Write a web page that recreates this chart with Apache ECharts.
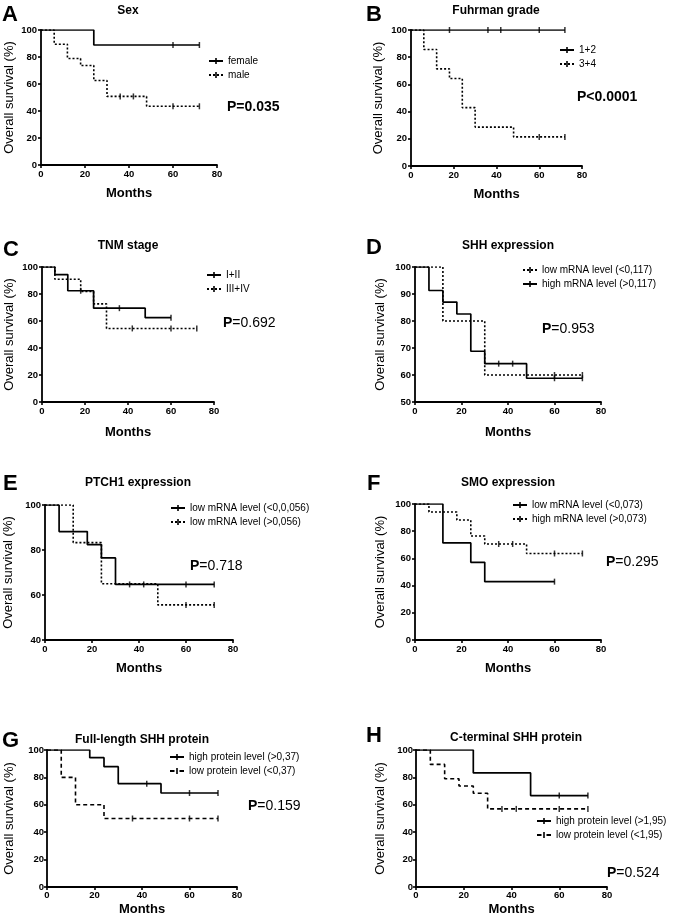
<!DOCTYPE html>
<html><head><meta charset="utf-8">
<script src="https://cdn.jsdelivr.net/npm/echarts@6/dist/echarts.min.js"></script>
<style>html,body{margin:0;padding:0;background:#fff}#c{width:677px;height:920px}</style>
</head><body><div id="c"></div>
<script>
// ---------- DATA ([month, survival %] step points; censor months) ----------
const sexFemale = [[0,100],[24,88.9],[72,88.9]];
const sexFemaleCens = [60,72];
const sexMale = [[0,100],[6,89.5],[12,78.9],[18,73.7],[24,62.6],[30,50.8],[48,43.5],[72,43.5]];
const sexMaleCens = [36,42,60,72];

const grade12 = [[0,100],[72,100]];
const grade12Cens = [18,36,42,60,72];
const grade34 = [[0,100],[6,85.7],[12,71.4],[18,64.3],[24,42.9],[30,28.6],[48,21.4],[72,21.4]];
const grade34Cens = [60,72];

const tnmI_II = [[0,100],[6,94.4],[12,82.4],[24,69.5],[48,62.5],[60,62.5]];
const tnmI_IICens = [18,36,60];
const tnmIII_IV = [[0,100],[6,90.9],[18,81.8],[24,72.7],[30,54.5],[72,54.5]];
const tnmIII_IVCens = [42,60,72];

const shhLow = [[0,100],[12,80],[30,60],[72,60]];
const shhLowCens = [60,72];
const shhHigh = [[0,100],[6,91.3],[12,87],[18,82.6],[24,68.8],[30,64.2],[48,58.8],[72,58.8]];
const shhHighCens = [36,42,60,72];

const ptchLow = [[0,100],[6,88.2],[18,82.4],[24,76.5],[30,64.7],[72,64.7]];
const ptchLowCens = [36,42,60,72];
const ptchHigh = [[0,100],[12,83.3],[24,65],[48,55.6],[72,55.6]];
const ptchHighCens = [60,72];

const smoLow = [[0,100],[12,71.4],[24,57.1],[30,42.9],[60,42.9]];
const smoLowCens = [60];
const smoHigh = [[0,100],[6,94.1],[18,88.2],[24,76.5],[30,70.6],[48,63.6],[72,63.6]];
const smoHighCens = [36,42,60,72];

const flHigh = [[0,100],[18,94.4],[24,87.8],[30,75.4],[48,68.6],[72,68.6]];
const flHighCens = [42,60,72];
const flLow = [[0,100],[6,80],[12,60],[24,50],[72,50]];
const flLowCens = [36,60,72];

const ctHigh = [[0,100],[24,83.3],[48,66.7],[72,66.7]];
const ctHighCens = [60,72];
const ctLow = [[0,100],[6,89.5],[12,79],[18,73.7],[24,68.4],[30,57],[72,57]];
const ctLowCens = [36,42,60,72];

const xTicks = {min:0, max:80, interval:20};

// ---------- LAYOUT ----------
const FONT = "'Liberation Sans', Arial, sans-serif";
const panels = [
 {letter:'A', lp:[2,15], title:'Sex', tp:[128,11], p:['P=0.035',''], pp:[227,107],
  grid:{left:41,top:30,width:176,height:135}, y:[0,100,20], yGap:25, xGap:22, lm:4,
  leg:[209,56], curves:[['female',sexFemale,sexFemaleCens,'solid'],['male',sexMale,sexMaleCens,'dot']]},
 {letter:'B', lp:[366,15], title:'Fuhrman grade', tp:[496,11], p:['P<0.0001',''], pp:[577,97],
  grid:{left:411,top:30,width:171,height:136}, y:[0,100,20], yGap:26, xGap:22, lm:4,
  leg:[560,45], curves:[['1+2',grade12,grade12Cens,'solid'],['3+4',grade34,grade34Cens,'dot']]},
 {letter:'C', lp:[3,250], title:'TNM stage', tp:[128,246], p:['P','=0.692'], pp:[223,323],
  grid:{left:42,top:267,width:172,height:135}, y:[0,100,20], yGap:26, xGap:24, lm:4,
  leg:[207,270], curves:[['I+II',tnmI_II,tnmI_IICens,'solid'],['III+IV',tnmIII_IV,tnmIII_IVCens,'dot']]},
 {letter:'D', lp:[366,248], title:'SHH expression', tp:[508,246], p:['P','=0.953'], pp:[542,329],
  grid:{left:415,top:267,width:186,height:135}, y:[50,100,10], yGap:28, xGap:24, lm:4,
  leg:[523,265], curves:[['low mRNA level (<0,117)',shhLow,shhLowCens,'dot'],['high mRNA level (>0,117)',shhHigh,shhHighCens,'solid']]},
 {letter:'E', lp:[3,484], title:'PTCH1 expression', tp:[138,483], p:['P','=0.718'], pp:[190,566],
  grid:{left:45,top:505,width:188,height:135}, y:[40,100,20], yGap:30, xGap:22, lm:4,
  leg:[171,503], curves:[['low mRNA level (<0,0,056)',ptchLow,ptchLowCens,'solid'],['low mRNA level (>0,056)',ptchHigh,ptchHighCens,'dot']]},
 {letter:'F', lp:[367,484], title:'SMO expression', tp:[508,483], p:['P','=0.295'], pp:[606,562],
  grid:{left:415,top:504,width:186,height:136}, y:[0,100,20], yGap:28, xGap:22, lm:4,
  leg:[513,500], curves:[['low mRNA level (<0,073)',smoLow,smoLowCens,'solid'],['high mRNA level (>0,073)',smoHigh,smoHighCens,'dot']]},
 {letter:'G', lp:[2,741], title:'Full-length SHH protein', tp:[142,740], p:['P','=0.159'], pp:[248,806],
  grid:{left:47,top:750,width:190,height:137}, y:[0,100,20], yGap:31, xGap:16, lm:3,
  leg:[170,752], curves:[['high protein level (>0,37)',flHigh,flHighCens,'solid'],['low protein level (<0,37)',flLow,flLowCens,'dash']]},
 {letter:'H', lp:[366,736], title:'C-terminal SHH protein', tp:[516,738], p:['P','=0.524'], pp:[607,873],
  grid:{left:416,top:750,width:191,height:137}, y:[0,100,20], yGap:29, xGap:16, lm:3,
  leg:[537,816], curves:[['high protein level (>1,95)',ctHigh,ctHighCens,'solid'],['low protein level (<1,95)',ctLow,ctLowCens,'dash']]}
];

const ICONS = {
  solid: 'path://M0,2.1h14v1.8h-14z M6.2,0h1.6v6h-1.6z',
  dot: 'path://M0,2.1h2v1.8h-2z M4,2.1h2v1.8h-2z M8,2.1h2v1.8h-2z M12,2.1h2v1.8h-2z M6.2,0h1.6v6h-1.6z',
  dash: 'path://M0,2.1h4.5v1.8h-4.5z M9.5,2.1h4.5v1.8h-4.5z M6.2,0h1.6v6h-1.6z'
};
const DASH = {solid:'solid', dot:[2,2], dash:[4,3]};

function stepVal(data, t) {
  let v = data[0][1];
  for (const d of data) { if (d[0] <= t) v = d[1]; }
  return v;
}

const grids = [], xAxes = [], yAxes = [], series = [], legends = [], graphics = [];
panels.forEach((pn, i) => {
  grids.push(Object.assign({containLabel:false}, pn.grid));
  const axisCommon = {
    gridIndex: i, type: 'value', nameLocation: 'middle',
    axisLine: {show: true, onZero: false, lineStyle: {color: '#000', width: 1.8}},
    axisTick: {show: true, length: 3, lineStyle: {color: '#000', width: 1.6}},
    axisLabel: {fontSize: 9.5, fontWeight: 'bold', color: '#000', fontFamily: FONT, margin: pn.lm},
    splitLine: {show: false}
  };
  xAxes.push(Object.assign({}, axisCommon, {
    min: xTicks.min, max: xTicks.max, interval: xTicks.interval,
    name: 'Months', nameGap: pn.xGap,
    nameTextStyle: {fontSize: 13, fontWeight: 'bold', color: '#000', fontFamily: FONT}
  }));
  yAxes.push(Object.assign({}, axisCommon, {
    min: pn.y[0], max: pn.y[1], interval: pn.y[2],
    name: 'Overall survival (%)', nameGap: pn.yGap, nameRotate: 90,
    nameTextStyle: {fontSize: 13, color: '#000', fontFamily: FONT}
  }));
  const legData = [];
  pn.curves.forEach(([name, data, cens, style]) => {
    series.push({
      name, type: 'line', step: 'end', xAxisIndex: i, yAxisIndex: i, data,
      symbol: 'none', silent: true, animation: false,
      lineStyle: {color: '#000', width: style === 'solid' ? 1.7 : 1.6, type: DASH[style]}, itemStyle: {color: '#000'}
    });
    series.push({
      name: name + ' censored', type: 'scatter', xAxisIndex: i, yAxisIndex: i,
      data: cens.map(t => [t, stepVal(data, t)]),
      symbol: 'rect', symbolSize: [1.5, 6], silent: true, animation: false,
      itemStyle: {color: '#000'}
    });
    legData.push({name, icon: ICONS[style]});
  });
  legends.push({
    orient: 'vertical', left: pn.leg[0], top: pn.leg[1], itemWidth: 14, itemHeight: 6,
    itemGap: 4, selectedMode: false, padding: 0,
    textStyle: {fontSize: 10, color: '#000', fontFamily: FONT, padding: [0,0,0,0]},
    data: legData
  });
  graphics.push({type: 'text', x: pn.lp[0], y: pn.lp[1], silent: true,
    style: {text: pn.letter, font: 'bold 22px ' + FONT, fill: '#000', textAlign: 'left', textVerticalAlign: 'middle'}});
  graphics.push({type: 'text', x: pn.tp[0], y: pn.tp[1], silent: true,
    style: {text: pn.title, font: 'bold 12px ' + FONT, fill: '#000', textAlign: 'center', textVerticalAlign: 'middle'}});
  graphics.push({type: 'text', x: pn.pp[0], y: pn.pp[1], silent: true,
    style: {text: '{b|' + pn.p[0] + '}' + (pn.p[1] ? '{r|' + pn.p[1] + '}' : ''),
      textAlign: 'left', textVerticalAlign: 'middle', fill: '#000',
      rich: {b: {fontSize: 14, fontWeight: 'bold', fontFamily: FONT, fill: '#000'},
             r: {fontSize: 14, fontFamily: FONT, fill: '#000'}}}});
});

const chart = echarts.init(document.getElementById('c'), null, {renderer: 'canvas'});
chart.setOption({
  backgroundColor: '#fff', animation: false,
  grid: grids, xAxis: xAxes, yAxis: yAxes, legend: legends, series, graphic: graphics
});
</script></body></html>
